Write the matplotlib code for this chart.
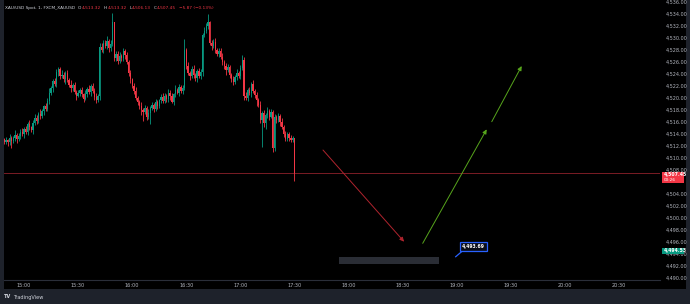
import numpy as np
import matplotlib
matplotlib.use("Agg")
import matplotlib.pyplot as plt
from matplotlib.patches import Rectangle
from matplotlib.transforms import blended_transform_factory

# ---- data (minutes from 15:00, 1-minute candles) ----
FIRST_MINUTE = -11
FIRST_OPEN = 4513.1
CLOSES = [
    4512.7,
    4513.0, 4512.6, 4513.4, 4512.8, 4513.3, 4513.9, 4513.2, 4513.6, 4514.4, 4514.0,
    4514.8, 4514.3, 4515.6, 4515.1, 4514.6,
    4515.9, 4516.7, 4516.2, 4517.4, 4517.0,
    4517.8, 4518.6, 4518.2, 4519.5, 4520.8,
    4521.6, 4522.9, 4522.4, 4524.3, 4524.8,
    4523.6, 4523.9, 4523.2, 4524.1, 4523.0,
    4522.2, 4521.6, 4522.1, 4521.0, 4520.4,
    4520.8, 4521.3, 4520.6, 4519.9, 4520.7, 4521.5, 4521.0, 4522.0, 4521.2, 4520.1, 4519.6, 4520.3,
    4528.5,
    4528.0, 4529.2, 4528.6, 4529.5, 4528.3, 4529.0,
    4532.6, 4526.6,
    4527.4, 4526.2, 4527.0, 4526.6, 4527.8, 4527.2,
    4526.0, 4524.2, 4523.1,
    4522.0, 4521.2, 4520.0, 4519.4, 4518.6, 4518.0,
    4517.6, 4518.4, 4516.9, 4517.5, 4518.3,
    4518.9, 4518.2, 4519.3, 4518.7, 4519.6, 4520.2, 4519.5, 4520.4, 4519.8, 4520.9, 4520.3, 4519.4, 4520.6,
    4521.3, 4520.9, 4521.8, 4521.2, 4521.6,
    4528.0,
    4525.4, 4524.2, 4523.6, 4524.8, 4523.8, 4523.3, 4524.5, 4523.7,
    4524.3, 4530.5,
    4531.2, 4532.0, 4532.6,
    4529.2,
    4528.6, 4529.4, 4528.0, 4527.4, 4527.9,
    4526.8, 4526.0, 4525.3, 4524.6, 4525.1, 4523.9,
    4523.2, 4522.6, 4523.5, 4524.2, 4523.7,
    4525.0, 4526.4,
    4520.4,
    4520.0, 4521.4, 4520.8, 4522.3, 4521.2,
    4520.5, 4519.6, 4518.9,
    4516.4, 4517.5, 4515.8, 4517.1,
    4517.9, 4516.9, 4517.6,
    4511.6, 4516.8,
    4516.3, 4517.0, 4516.0, 4515.2,
    4514.0, 4513.2, 4514.0, 4513.4,
    4513.0, 4513.32, 4507.45,
]
UPPER_WICK = [
    0.3, 0.5, 0.2, 0.6, 0.3, 0.4, 0.7, 0.3, 0.5, 0.4,
    0.6, 0.3, 0.5, 0.4, 0.8, 0.3, 0.5, 0.6, 0.4, 0.3,
    0.7, 0.4, 0.3, 0.6, 0.5, 0.9, 0.4, 0.3, 0.5, 0.6,
    0.4, 0.3, 0.7, 0.5, 0.4, 0.6, 0.3, 0.8, 0.4, 0.5,
    0.3, 0.6, 0.4, 0.5, 0.3, 0.7, 0.4, 0.6, 0.3, 0.5,
    0.4, 0.8, 0.3, 0.6, 0.7, 0.4, 0.5, 0.9, 0.3, 0.6,
    1.6, 0.0, 0.5, 0.4, 0.7, 0.3, 0.6, 0.4, 0.5, 0.3,
    0.4, 0.3, 0.5, 0.6, 0.4, 0.3, 0.7, 0.4, 0.5, 0.3,
    0.6, 0.4, 0.5, 0.3, 0.6, 0.4, 0.3, 0.5, 0.7, 0.4,
    0.3, 0.6, 0.4, 0.5, 0.3, 0.8, 0.4, 0.6, 0.3, 0.5,
    1.8, 0.4, 0.6, 0.3, 0.5, 0.7, 0.4, 0.3, 0.5, 0.6,
    0.4, 0.6, 0.5, 1.4, 0.3, 0.5, 0.4, 0.6, 0.3, 0.5,
    0.4, 0.7, 0.3, 0.5, 0.6, 0.4, 0.3, 0.5, 0.4, 0.6,
    0.3, 0.5, 0.8, 0.4, 0.6, 0.3, 0.5, 0.4, 0.7, 0.3,
    0.5, 0.4, 0.6, 0.3, 0.5, 0.4, 0.6, 0.3, 0.5, 0.4,
    0.6, 0.3, 0.5, 0.4, 0.7, 0.3, 0.5, 0.4, 0.3, 0.5,
    0.3, 0.0,
]
LOWER_WICK = [
    0.4, 0.3, 0.6, 0.5, 1.2, 0.3, 0.4, 0.7, 0.3, 0.5,
    0.4, 0.6, 0.3, 0.5, 0.4, 0.3, 0.6, 0.4, 0.5, 0.3,
    0.5, 0.4, 0.6, 0.3, 0.4, 0.5, 0.3, 0.6, 0.4, 0.5,
    0.6, 0.4, 0.3, 0.5, 0.8, 0.4, 0.3, 0.6, 0.5, 0.4,
    0.7, 0.3, 0.5, 0.4, 0.6, 0.3, 0.5, 0.4, 0.6, 0.3,
    0.5, 0.4, 0.3, 0.6, 0.4, 0.5, 0.3, 0.4, 0.6, 0.5,
    0.3, 0.5, 0.4, 0.6, 0.3, 0.5, 0.4, 0.7, 0.3, 0.5,
    0.6, 0.4, 0.5, 0.3, 0.6, 0.4, 0.8, 1.5, 0.3, 0.6,
    0.4, 1.8, 0.3, 0.5, 0.4, 0.6, 0.3, 0.5, 0.4, 0.3,
    0.5, 0.4, 0.6, 0.3, 0.5, 0.4, 0.3, 0.6, 0.4, 0.5,
    0.3, 0.5, 0.4, 0.6, 0.3, 0.5, 0.4, 0.7, 0.3, 0.5,
    0.6, 0.4, 0.3, 0.5, 0.4, 0.6, 0.3, 0.5, 0.4, 0.6,
    0.3, 0.5, 0.4, 0.7, 0.3, 0.5, 0.6, 0.4, 0.3, 0.5,
    0.4, 0.6, 0.3, 0.8, 0.4, 0.5, 0.3, 0.6, 0.4, 0.5,
    0.9, 0.4, 0.5, 4.5, 0.6, 1.0, 0.4, 0.5, 0.3, 0.6,
    0.4, 0.5, 0.3, 0.6, 0.4, 0.5, 0.3, 0.4, 0.6, 0.3,
    0.4, 1.32,
]

TIME_TICKS = [0, 30, 60, 90, 120, 150, 180, 210, 240, 270, 300, 330]
TIME_LABELS = ["15:00", "15:30", "16:00", "16:30", "17:00", "17:30",
               "18:00", "18:30", "19:00", "19:30", "20:00", "20:30"]
PRICE_TICKS = list(range(4490, 4537, 2))

LAST_PRICE = 4507.45
COUNTDOWN = "00:26"
ALERT_PRICE = 4494.53
CALLOUT_PRICE = 4493.69

# drawn arrows: (t0, p0, t1, p1)
RED_ARROW = (165.8, 4511.33, 210.8, 4496.05)
GREEN_ARROWS = [(221.1, 4495.78, 256.6, 4514.78),
                (259.4, 4516.05, 276.0, 4525.33)]
GRAY_BOX = (174.7, 4492.28, 230.0, 4493.55)   # t0, p0, t1, p1
CALLOUT_BOX = (241.8, 4494.55, 256.6, 4495.95)
CALLOUT_TIP = (239.4, 4493.55)

HEADER = "XAU/USD Spot, 1, FXCM_XAUUSD"
OHLC = [("O", "4,513.32"), ("H", "4,513.32"), ("L", "4,506.13"), ("C", "4,507.45")]
CHANGE = "\u22125.87 (\u22120.13%)"

UP = "#089981"
DOWN = "#f23645"
AXIS_TXT = "#b2b5be"
FOOTER_BG = "#1e222b"

# ---- figure ----
fig = plt.figure(figsize=(6.9, 3.04), dpi=100, facecolor=FOOTER_BG)
bg = fig.add_axes([4 / 690, 15 / 304, 682 / 690, 289 / 304], zorder=-5)
bg.set_axis_off()
bg.add_patch(Rectangle((0, 0), 1, 1, transform=bg.transAxes,
                       facecolor="#000000", edgecolor="none"))

ax = fig.add_axes([4 / 690, 24 / 304, 656 / 690, 280 / 304], zorder=1)
ax.set_facecolor("#000000")
ax.set_xlim(-11.1, 352.7)
ax.set_ylim(4489.67, 4536.33)

closes = np.array(CLOSES)
opens = np.concatenate([[FIRST_OPEN], closes[:-1]])
t = np.arange(FIRST_MINUTE, FIRST_MINUTE + len(closes))
hi = np.maximum(opens, closes) + np.array(UPPER_WICK)
lo = np.minimum(opens, closes) - np.array(LOWER_WICK)
colors = [UP if c >= o else DOWN for o, c in zip(opens, closes)]

ax.vlines(t, lo, hi, colors=colors, linewidth=0.6, zorder=3)
body_h = np.maximum(np.abs(closes - opens), 0.08)
ax.bar(t, body_h, bottom=np.minimum(opens, closes), width=0.7,
       color=colors, linewidth=0, zorder=4)

# last price line
ax.axhline(LAST_PRICE, color="#7a1c25", linewidth=0.7, zorder=2)

# drawings
def arrow(seg, color):
    ax.annotate("", xy=(seg[2], seg[3]), xytext=(seg[0], seg[1]),
                arrowprops=dict(arrowstyle="-|>,head_length=0.25,head_width=0.12",
                                color=color, lw=0.7, shrinkA=0, shrinkB=0),
                zorder=5)

arrow(RED_ARROW, "#b0242e")
for seg in GREEN_ARROWS:
    arrow(seg, "#57a51c")

ax.add_patch(Rectangle((GRAY_BOX[0], GRAY_BOX[1]), GRAY_BOX[2] - GRAY_BOX[0],
                       GRAY_BOX[3] - GRAY_BOX[1], facecolor="#2a2d35",
                       edgecolor="none", zorder=5))

ax.plot([CALLOUT_TIP[0], CALLOUT_BOX[0] + 1.5], [CALLOUT_TIP[1], CALLOUT_BOX[1]],
        color="#2962ff", linewidth=0.9, zorder=6)
ax.add_patch(Rectangle((CALLOUT_BOX[0], CALLOUT_BOX[1]), CALLOUT_BOX[2] - CALLOUT_BOX[0],
                       CALLOUT_BOX[3] - CALLOUT_BOX[1], facecolor="#0b0e1a",
                       edgecolor="#2962ff", linewidth=0.9, zorder=7))
ax.text((CALLOUT_BOX[0] + CALLOUT_BOX[2]) / 2, (CALLOUT_BOX[1] + CALLOUT_BOX[3]) / 2,
        f"{CALLOUT_PRICE:,.2f}", color="white", fontsize=3.3, fontweight="bold",
        ha="center", va="center", zorder=8)

# axes styling
for side in ["top", "left", "right"]:
    ax.spines[side].set_visible(False)
ax.spines["bottom"].set_color("#2a2e39")
ax.spines["bottom"].set_linewidth(0.8)
ax.yaxis.tick_right()
ax.set_yticks(PRICE_TICKS)
ax.set_yticklabels([f"{p:,.2f}" for p in PRICE_TICKS])
ax.set_xticks(TIME_TICKS)
ax.set_xticklabels(TIME_LABELS)
ax.tick_params(axis="y", length=0, pad=4, labelsize=3.5, labelcolor=AXIS_TXT)
ax.tick_params(axis="x", length=0, pad=2, labelsize=3.6, labelcolor=AXIS_TXT)
# the label under the last-price tag is hidden
for lbl, p in zip(ax.get_yticklabels(), PRICE_TICKS):
    if p == 4506:
        lbl.set_visible(False)

# price tags on the right axis
tr = blended_transform_factory(ax.transAxes, ax.transData)
ax.add_patch(Rectangle((1.003, LAST_PRICE - 1.6), 0.034, 1.8, transform=tr,
                       facecolor=DOWN, edgecolor="none", clip_on=False, zorder=9))
ax.text(1.006, LAST_PRICE - 0.28, f"{LAST_PRICE:,.2f}", transform=tr, color="white",
        fontsize=3.3, fontweight="bold", va="center", ha="left", clip_on=False, zorder=10)
ax.text(1.006, LAST_PRICE - 1.1, COUNTDOWN, transform=tr, color="white",
        fontsize=3.1, va="center", ha="left", clip_on=False, zorder=10)
ax.add_patch(Rectangle((1.003, ALERT_PRICE - 0.45), 0.034, 0.95, transform=tr,
                       facecolor=UP, edgecolor="none", clip_on=False, zorder=9))
ax.text(1.006, ALERT_PRICE + 0.02, f"{ALERT_PRICE:,.2f}", transform=tr, color="white",
        fontsize=3.3, fontweight="bold", va="center", ha="left", clip_on=False, zorder=10)

# header legend
x = 5 / 690
y = 1 - 8 / 304
HFS = 3.1
txt = fig.text(x, y, HEADER, color="#d1d4dc", fontsize=HFS, va="center", zorder=20)
fig.canvas.draw()
r = fig.canvas.get_renderer()
x_px = txt.get_window_extent(r).x1 + 3
for letter, val in OHLC:
    a = fig.text(x_px / 690, y, letter, color="#d1d4dc", fontsize=HFS, va="center", zorder=20)
    x_px = a.get_window_extent(r).x1 + 0.2
    b = fig.text(x_px / 690, y, val, color=DOWN, fontsize=HFS, va="center", zorder=20)
    x_px = b.get_window_extent(r).x1 + 3
fig.text(x_px / 690, y, CHANGE, color=DOWN, fontsize=HFS, va="center", zorder=20)

# footer
fig.text(4 / 690, 7 / 304, "TV", color="#d1d4dc", fontsize=3.6, fontweight="bold",
         va="center")
fig.text(13 / 690, 7 / 304, "TradingView", color="#d1d4dc", fontsize=3.6, va="center")

fig.savefig("out.png", dpi=100, facecolor=FOOTER_BG)
